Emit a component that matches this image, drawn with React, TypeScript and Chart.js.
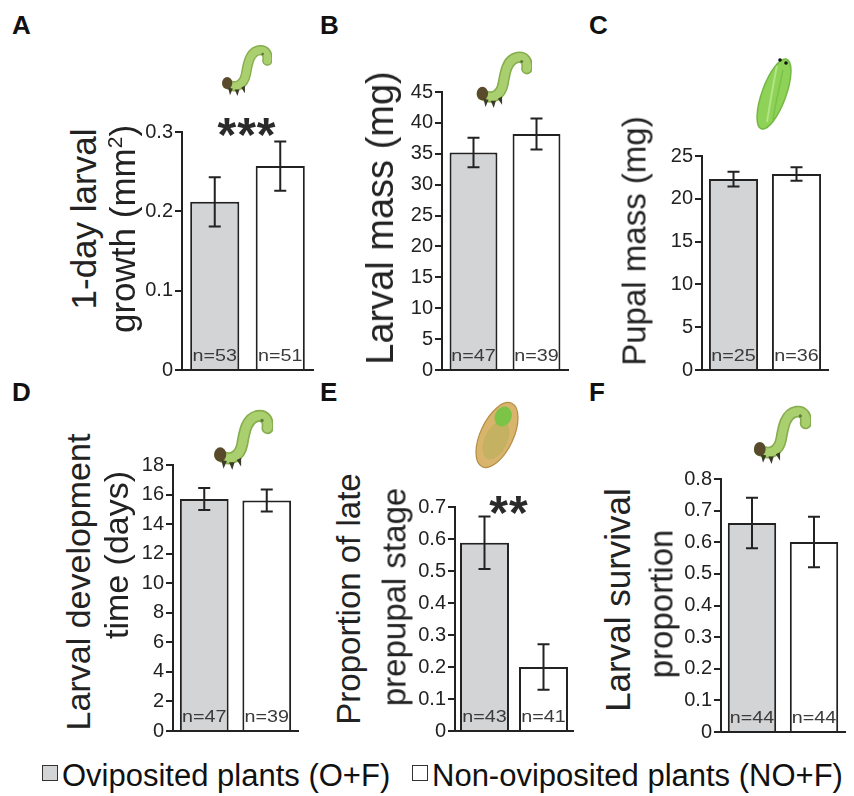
import React, { useEffect, useRef } from 'react';
import { Chart, registerables } from 'chart.js';
Chart.register(...registerables);

const FONT = '"Liberation Sans", Arial, Helvetica, sans-serif';
const INK = '#222';

const groups = ['Oviposited plants (O+F)', 'Non-oviposited plants (NO+F)'];
const barColors = ['#d3d4d6', '#ffffff'];

const growthMean = [0.212, 0.257];
const growthErr = [0.031, 0.031];
const growthN = ['n=53', 'n=51'];
const growthTicks = [0, 0.1, 0.2, 0.3];

const massMean = [35.2, 38.2];
const massErr = [2.4, 2.5];
const massN = ['n=47', 'n=39'];
const massTicks = [0, 5, 10, 15, 20, 25, 30, 35, 40, 45];

const pupalMean = [22.3, 22.9];
const pupalErr = [0.85, 0.8];
const pupalN = ['n=25', 'n=36'];
const pupalTicks = [0, 5, 10, 15, 20, 25];

const devMean = [15.7, 15.6];
const devErr = [0.75, 0.75];
const devN = ['n=47', 'n=39'];
const devTicks = [0, 2, 4, 6, 8, 10, 12, 14, 16, 18];

const prepupaMean = [0.588, 0.2];
const prepupaErr = [0.082, 0.071];
const prepupaN = ['n=43', 'n=41'];
const prepupaTicks = [0, 0.1, 0.2, 0.3, 0.4, 0.5, 0.6, 0.7];

const survMean = [0.661, 0.601];
const survErr = [0.08, 0.08];
const survN = ['n=44', 'n=44'];
const survTicks = [0, 0.1, 0.2, 0.3, 0.4, 0.5, 0.6, 0.7, 0.8];

type PanelProps = {
  mean: number[];
  err: number[];
  n: string[];
  ticks: number[];
  axisX: number;
  right: number;
  top: number;
  bottom: number;
  barPct: number;
};

function BarPanel({ mean, err, n, ticks, axisX, right, top, bottom, barPct }: PanelProps) {
  const ref = useRef<HTMLCanvasElement>(null);
  const yW = 64, padT = 14, padB = 14, padR = 3;
  const left = axisX - yW;
  const cTop = top - padT;
  const width = right - left + padR;
  const height = bottom - cTop + padB;
  useEffect(() => {
    const errPlugin = {
      id: 'errN',
      afterDatasetsDraw(chart: any) {
        const ctx = chart.ctx;
        const meta = chart.getDatasetMeta(0);
        const ys = chart.scales.y;
        meta.data.forEach((bar: any, i: number) => {
          const x = bar.x;
          const yHi = ys.getPixelForValue(mean[i] + err[i]);
          const yLo = ys.getPixelForValue(mean[i] - err[i]);
          ctx.save();
          ctx.strokeStyle = INK;
          ctx.lineWidth = 2;
          ctx.beginPath();
          ctx.moveTo(x, yHi);
          ctx.lineTo(x, yLo);
          ctx.moveTo(x - 6, yHi);
          ctx.lineTo(x + 6, yHi);
          ctx.moveTo(x - 6, yLo);
          ctx.lineTo(x + 6, yLo);
          ctx.stroke();
          ctx.translate(x, chart.chartArea.bottom - 9);
          ctx.scale(1.16, 1);
          ctx.fillStyle = '#3a3a3a';
          ctx.font = '17px ' + FONT;
          ctx.textAlign = 'center';
          ctx.textBaseline = 'alphabetic';
          ctx.fillText(n[i], 0, 0);
          ctx.restore();
        });
      },
    };
    const chart = new Chart(ref.current as HTMLCanvasElement, {
      type: 'bar',
      data: {
        labels: groups,
        datasets: [
          {
            data: mean,
            backgroundColor: barColors,
            borderColor: INK,
            borderWidth: 2,
            barPercentage: barPct,
            categoryPercentage: 1,
          },
        ],
      },
      options: {
        animation: false,
        responsive: false,
        layout: { padding: { top: padT, bottom: padB, right: padR, left: 0 } },
        plugins: { legend: { display: false }, tooltip: { enabled: false } },
        scales: {
          x: {
            z: 1,
            ticks: { display: false },
            grid: { display: false },
            border: { display: true, color: INK, width: 2 },
            afterFit: (s: any) => {
              s.height = 0;
            },
          },
          y: {
            z: 1,
            min: ticks[0],
            max: ticks[ticks.length - 1],
            afterBuildTicks: (s: any) => {
              s.ticks = ticks.map((v) => ({ value: v }));
            },
            ticks: {
              color: INK,
              font: { size: 20, family: FONT },
              padding: 2,
              callback: (v: any) => String(v),
            },
            grid: { drawOnChartArea: false, drawTicks: true, tickLength: 7, color: INK, lineWidth: 2 },
            border: { display: true, color: INK, width: 2 },
            afterFit: (s: any) => {
              s.width = yW;
            },
          },
        },
      } as any,
      plugins: [errPlugin],
    });
    return () => chart.destroy();
  }, []);
  return (
    <canvas
      ref={ref}
      width={width}
      height={height}
      style={{ position: 'absolute', left, top: cTop, width, height }}
    />
  );
}

function VText({ x, y, size, children }: { x: number; y: number; size: number; children: any }) {
  return (
    <div
      style={{
        position: 'absolute',
        left: x - 3,
        top: y,
        transform: 'translate(-50%, -50%) rotate(-90deg)',
        whiteSpace: 'nowrap',
        fontFamily: FONT,
        fontSize: size,
        lineHeight: 1,
        color: INK,
      }}
    >
      {children}
    </div>
  );
}

function Letter({ x, y, t }: { x: number; y: number; t: string }) {
  return (
    <div
      style={{
        position: 'absolute',
        left: x,
        top: y,
        fontFamily: FONT,
        fontWeight: 'bold',
        fontSize: 26,
        lineHeight: 1,
        color: '#111',
      }}
    >
      {t}
    </div>
  );
}

function Stars({ x, y, t }: { x: number; y: number; t: string }) {
  return (
    <div
      style={{
        position: 'absolute',
        left: x,
        top: y - 14,
        transform: 'translateX(-50%)',
        fontFamily: FONT,
        fontWeight: 'bold',
        fontSize: 48,
        lineHeight: 1,
        letterSpacing: 1,
        color: '#2a2a2a',
      }}
    >
      {t}
    </div>
  );
}

const CAT_PATH = 'M12 46 C22 52 30 46 32 36 C34 24 36 12 46 10 C53 9 56 14 55 21';

function Caterpillar({ x, y, w, h }: { x: number; y: number; w: number; h: number }) {
  return (
    <svg style={{ position: 'absolute', left: x, top: y }} width={w} height={h} viewBox="0 0 60 60">
      <path d={CAT_PATH} stroke="#86ad4e" strokeWidth={11} fill="none" strokeLinecap="round" />
      <path d={CAT_PATH} stroke="#a9cf6f" strokeWidth={8} fill="none" strokeLinecap="round" />
      <circle cx={50} cy={14} r={1.5} fill="#5f7a3a" />
      <ellipse cx={12} cy={45} rx={5.5} ry={6.5} fill="#5a4a2c" />
      <polygon points="13,50 15,58 18,51" fill="#3c3a28" />
      <polygon points="20,52 23,59 25,52" fill="#3c3a28" />
      <polygon points="27,50 31,56 31,48" fill="#3c3a28" />
    </svg>
  );
}

function Pupa({ x, y, w, h }: { x: number; y: number; w: number; h: number }) {
  return (
    <svg style={{ position: 'absolute', left: x, top: y }} width={w} height={h} viewBox="0 0 42 80">
      <ellipse cx={21} cy={40} rx={12} ry={37} transform="rotate(20 21 40)" fill="#8ed257" stroke="#74b844" strokeWidth={1.5} />
      <path d="M24 12 C20 30 17 50 14 68" stroke="#b2e585" strokeWidth={2} fill="none" />
      <path d="M30 16 C26 34 22 52 20 66" stroke="#7cc24a" strokeWidth={1.5} fill="none" />
      <circle cx={27} cy={6} r={1.8} fill="#111" />
      <circle cx={33} cy={9} r={1.8} fill="#111" />
    </svg>
  );
}

function Prepupa({ x, y, w, h }: { x: number; y: number; w: number; h: number }) {
  return (
    <svg style={{ position: 'absolute', left: x, top: y }} width={w} height={h} viewBox="0 0 50 70">
      <ellipse cx={25} cy={35} rx={16} ry={34} transform="rotate(25 25 35)" fill="#d8b46c" stroke="#b48f45" strokeWidth={1.2} />
      <ellipse cx={24} cy={40} rx={11} ry={20} transform="rotate(25 24 40)" fill="#b8b15c" opacity={0.6} />
      <ellipse cx={31} cy={17} rx={8} ry={10} transform="rotate(25 31 17)" fill="#7cc447" />
    </svg>
  );
}

function Swatch({ x, y, fill }: { x: number; y: number; fill: string }) {
  return (
    <div
      style={{
        position: 'absolute',
        left: x,
        top: y,
        width: 14,
        height: 14,
        background: fill,
        border: '1.5px solid #333',
      }}
    />
  );
}

function LegendText({ x, t }: { x: number; t: string }) {
  return (
    <div
      style={{
        position: 'absolute',
        left: x,
        top: 760,
        fontFamily: FONT,
        fontSize: 31,
        lineHeight: 1,
        color: '#111',
        whiteSpace: 'nowrap',
      }}
    >
      {t}
    </div>
  );
}

export default function App() {
  return (
    <div style={{ position: 'absolute', left: 0, top: 0, width: 854, height: 796, background: '#fff', overflow: 'hidden' }}>
      <Letter x={12} y={12} t="A" />
      <Letter x={320} y={12} t="B" />
      <Letter x={589} y={12} t="C" />
      <Letter x={12} y={379} t="D" />
      <Letter x={320} y={379} t="E" />
      <Letter x={589} y={379} t="F" />

      <Caterpillar x={216} y={40} w={56} h={58} />
      <Caterpillar x={470} y={46} w={62} h={64} />
      <Pupa x={750} y={54} w={48} h={80} />
      <Caterpillar x={207} y={405} w={66} h={66} />
      <Prepupa x={470} y={399} w={54} h={72} />
      <Caterpillar x={747} y={401} w={64} h={64} />

      <BarPanel mean={growthMean} err={growthErr} n={growthN} ticks={growthTicks} axisX={182} right={313} top={132} bottom={370} barPct={0.75} />
      <BarPanel mean={massMean} err={massErr} n={massN} ticks={massTicks} axisX={442} right={568} top={92} bottom={370} barPct={0.76} />
      <BarPanel mean={pupalMean} err={pupalErr} n={pupalN} ticks={pupalTicks} axisX={702} right={828} top={156} bottom={370} barPct={0.78} />
      <BarPanel mean={devMean} err={devErr} n={devN} ticks={devTicks} axisX={173} right={298} top={465} bottom={731} barPct={0.78} />
      <BarPanel mean={prepupaMean} err={prepupaErr} n={prepupaN} ticks={prepupaTicks} axisX={455} right={573} top={507} bottom={731} barPct={0.83} />
      <BarPanel mean={survMean} err={survErr} n={survN} ticks={survTicks} axisX={721} right={845} top={479} bottom={732} barPct={0.78} />

      <VText x={86} y={219} size={35}>1-day larval</VText>
      <VText x={125} y={229} size={35}>
        growth (mm<sup style={{ fontSize: '0.6em' }}>2</sup>)
      </VText>
      <VText x={383} y={218} size={38}>Larval mass (mg)</VText>
      <VText x={637} y={241} size={33}>Pupal mass (mg)</VText>
      <VText x={81} y={582} size={34}>Larval development</VText>
      <VText x={119} y={555} size={34}>time (days)</VText>
      <VText x={351} y={599} size={33}>Proportion of late</VText>
      <VText x={397} y={597} size={33}>prepupal stage</VText>
      <VText x={620} y={600} size={35}>Larval survival</VText>
      <VText x={664} y={604} size={33}>proportion</VText>

      <Stars x={247} y={125} t="***" />
      <Stars x={509} y={503} t="**" />

      <Swatch x={42} y={765} fill={barColors[0]} />
      <LegendText x={62} t={groups[0]} />
      <Swatch x={412} y={765} fill={barColors[1]} />
      <LegendText x={432} t={groups[1]} />
    </div>
  );
}
